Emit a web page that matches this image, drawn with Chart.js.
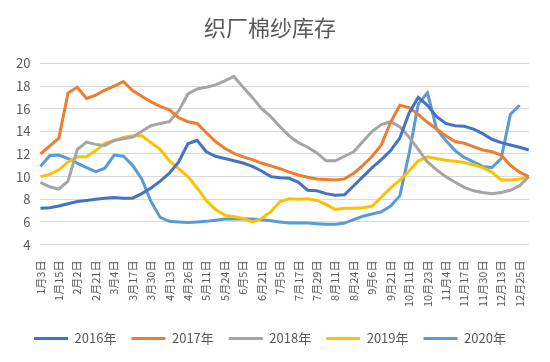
<!DOCTYPE html>
<html>
<head>
<meta charset="utf-8">
<script src="https://cdn.jsdelivr.net/npm/chart.js@4/dist/chart.umd.min.js"></script>
<style>
  html, body { margin: 0; padding: 0; background: #fff; }
  #wrap { width: 550px; height: 362px; }
</style>
</head>
<body>
<div id="wrap"><canvas id="grafik"></canvas></div>
<script>
// tick labels, one for every second week
const tickLabels = ['1月3日','1月15日','2月2日','2月21日','3月4日','3月17日','3月30日','4月13日','4月26日',
  '5月11日','5月24日','6月5日','6月21日','7月5日','7月17日','7月29日','8月11日','8月24日',
  '9月6日','9月21日','10月11日','10月23日','11月4日','11月17日','11月30日','12月13日','12月25日'];

const years = ['2016年','2017年','2018年','2019年','2020年'];
const colors = ['#4472C4','#ED7D31','#A5A5A5','#FFC000','#5B9BD5'];

const s2016 = [7.2,7.25,7.4,7.6,7.8,7.9,8.0,8.1,8.15,8.1,8.1,8.5,9.0,9.6,10.3,11.3,12.9,13.2,12.2,11.8,
  11.6,11.4,11.2,10.9,10.5,10.0,9.9,9.85,9.5,8.8,8.75,8.5,8.35,8.4,9.2,10.0,10.8,11.5,12.3,13.4,
  15.6,17.0,16.3,15.3,14.7,14.5,14.45,14.2,13.8,13.3,13.0,12.8,12.6,12.35];
const s2017 = [12.0,12.7,13.4,17.4,17.9,16.9,17.2,17.65,18.0,18.4,17.6,17.1,16.6,16.2,15.9,15.2,14.85,14.7,13.9,13.1,
  12.5,12.05,11.75,11.5,11.2,10.95,10.7,10.4,10.15,9.95,9.8,9.75,9.7,9.8,10.3,11.0,11.8,12.8,14.8,16.3,
  16.1,15.5,14.8,14.2,13.6,13.1,12.95,12.65,12.35,12.2,11.9,11.0,10.4,10.0];
const s2018 = [9.5,9.1,8.9,9.6,12.4,13.05,12.85,12.75,13.2,13.35,13.5,14.0,14.5,14.7,14.85,15.8,17.3,17.75,17.9,18.1,
  18.45,18.85,17.9,17.0,16.0,15.3,14.4,13.6,13.0,12.6,12.1,11.4,11.4,11.8,12.2,13.1,14.0,14.6,14.85,14.4,
  13.5,12.4,11.3,10.6,10.0,9.5,9.05,8.75,8.6,8.5,8.6,8.8,9.2,10.0];
const s2019 = [10.0,10.2,10.6,11.3,11.75,11.75,12.3,12.95,13.2,13.45,13.6,13.6,13.0,12.4,11.4,10.7,10.0,9.0,7.9,7.1,
  6.6,6.45,6.3,6.0,6.3,6.9,7.8,8.05,8.0,8.05,7.9,7.55,7.1,7.2,7.2,7.25,7.4,8.2,9.0,9.7,
  10.5,11.4,11.75,11.6,11.45,11.35,11.25,11.05,10.8,10.4,9.7,9.7,9.8,10.0];
const s2020 = [10.9,11.85,11.9,11.6,11.2,10.8,10.45,10.75,11.9,11.8,11.0,9.8,7.8,6.4,6.05,6.0,5.95,6.0,6.05,6.15,
  6.25,6.25,6.25,6.25,6.2,6.1,6.0,5.9,5.9,5.9,5.85,5.8,5.8,5.9,6.2,6.5,6.7,6.9,7.4,8.3,
  12.0,16.4,17.4,14.2,13.2,12.3,11.7,11.3,10.9,10.8,11.6,15.5,16.3,null];

const series = [s2016, s2017, s2018, s2019, s2020];

// weekly categories: a label on every second one
const categories = [];
for (let i = 0; i < s2016.length; i++) {
  categories.push(i % 2 === 0 ? (tickLabels[i / 2] || '') : '');
}

const fontFam = '"Noto Sans CJK SC", "Noto Sans", sans-serif';

new Chart(document.getElementById('grafik').getContext('2d'), {
  type: 'line',
  data: {
    labels: categories,
    datasets: series.map((d, k) => ({
      label: years[k],
      data: d,
      borderColor: colors[k],
      backgroundColor: colors[k],
      borderWidth: 3,
      pointRadius: 0,
      tension: 0,
      fill: false
    }))
  },
  options: {
    responsive: true,
    maintainAspectRatio: false,
    animation: false,
    layout: { padding: { left: 6, right: 16, top: 6, bottom: 7 } },
    plugins: {
      title: {
        display: true,
        text: '织厂棉纱库存',
        color: '#595959',
        font: { family: fontFam, size: 22, weight: 'normal' },
        padding: { top: 8, bottom: 23 }
      },
      legend: {
        position: 'bottom',
        labels: {
          color: '#595959',
          font: { family: fontFam, size: 13 },
          boxWidth: 34,
          boxHeight: 3,
          padding: 15,
          generateLabels: function(chart) {
            return Chart.defaults.plugins.legend.labels.generateLabels(chart).map(l => {
              l.lineWidth = 0;
              return l;
            });
          }
        }
      },
      tooltip: { enabled: false }
    },
    scales: {
      x: {
        grid: { display: false },
        border: { display: false },
        afterFit: function(scale) { scale.height += 2; },
        ticks: {
          autoSkip: false,
          maxRotation: 90,
          minRotation: 90,
          color: '#595959',
          font: { family: fontFam, size: 11 },
          padding: 8
        }
      },
      y: {
        min: 4,
        max: 20,
        grid: { color: '#d9d9d9', drawTicks: false },
        border: { display: false },
        ticks: {
          stepSize: 2,
          color: '#595959',
          font: { family: fontFam, size: 13 },
          padding: 10
        }
      }
    }
  }
});
</script>
</body>
</html>
